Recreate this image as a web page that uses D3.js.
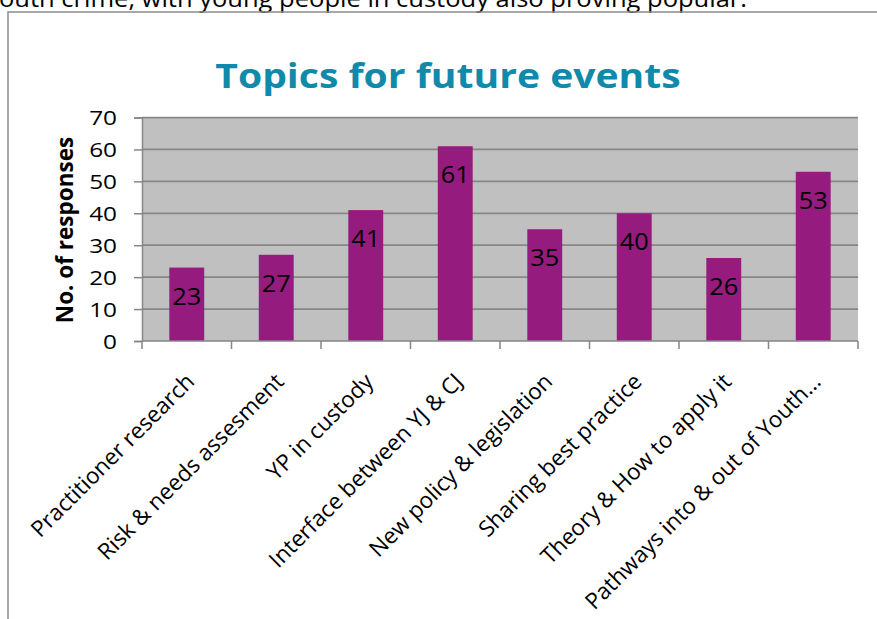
<!DOCTYPE html>
<html>
<head>
<meta charset="utf-8">
<script src="https://cdn.jsdelivr.net/npm/d3@7"></script>
<style>
  body { margin: 0; background: #fff; }
  svg { display: block; font-family: "Open Sans", sans-serif; }
</style>
</head>
<body>
<div id="chart"></div>
<script>
// Chart data
let topics = ["Practitioner research", "Risk & needs assesment", "YP in custody", "Interface between YJ & CJ",
              "New policy & legislation", "Sharing best practice", "Theory & How to apply it", "Pathways into & out of Youth\u2026"]
let responses = [23, 27, 41, 61, 35, 40, 26, 53]
let yTicks = [0, 10, 20, 30, 40, 50, 60, 70]
let title = "Topics for future events"
let yTitle = "No. of responses"
let pageText = "outh crime, with young people in custody also proving popular."

let width = 877
let height = 619
let plot = { left: 142, right: 858, top: 117.5, bottom: 341 }

const svg = d3.select("#chart")
            .append("svg")
            .attr("width", width)
            .attr("height", height)

// Text of the page above the chart (cut at the top like the source page)
svg.append("text")
   .attr("transform", "translate(-1,7) scale(1.11,1)")
   .attr("font-size", 23)
   .text(pageText)

// Chart frame
svg.append("rect")
   .attr("x", 8)
   .attr("y", 12)
   .attr("width", 1000)
   .attr("height", 1000)
   .attr("fill", "none")
   .attr("stroke", "#8c8c8c")
   .attr("stroke-width", 1.5)

// Scales
const xScale = d3.scaleBand()
                 .domain(topics)
                 .range([plot.left, plot.right])
const yScale = d3.scaleLinear()
                 .domain([0, 70])
                 .range([plot.bottom, plot.top])

// Plot background
svg.append("rect")
   .attr("x", plot.left)
   .attr("y", plot.top)
   .attr("width", plot.right - plot.left)
   .attr("height", plot.bottom - plot.top)
   .attr("fill", "#c0c0c0")

// Gridlines
svg.append("g")
   .selectAll("line")
   .data(yTicks.slice(1))
   .enter()
   .append("line")
   .attr("x1", plot.left)
   .attr("x2", plot.right)
   .attr("y1", d => yScale(d))
   .attr("y2", d => yScale(d))
   .attr("stroke", "#878787")
   .attr("stroke-width", 1.75)

// Bars
let barWidth = xScale.bandwidth() * 0.39
let center = i => xScale(topics[i]) + xScale.bandwidth() / 2
svg.append("g")
   .selectAll("rect")
   .data(responses)
   .enter()
   .append("rect")
   .attr("x", (d, i) => center(i) - barWidth / 2)
   .attr("y", d => yScale(d))
   .attr("width", barWidth)
   .attr("height", d => yScale(0) - yScale(d))
   .attr("fill", "#961b7f")

// Data labels
svg.append("g")
   .selectAll("text")
   .data(responses)
   .enter()
   .append("text")
   .attr("transform", (d, i) => "translate(" + center(i) + "," + (yScale(d) + 37) + ") scale(1.1,1)")
   .attr("text-anchor", "middle")
   .attr("font-size", 23)
   .attr("fill", "#000")
   .text(d => d)

// Y axis
let labelStretch = 1.25
const yAxis = d3.axisLeft(yScale).tickValues(yTicks).tickSize(8).tickPadding(9)
let yG = svg.append("g")
            .attr("transform", "translate(" + plot.left + ",0)")
            .call(yAxis)
yG.select(".domain").attr("stroke", "#868686").attr("stroke-width", 1.5)
yG.selectAll(".tick line").attr("stroke", "#868686").attr("stroke-width", 1.5)
yG.selectAll(".tick text")
  .attr("font-family", "Open Sans")
  .attr("font-size", 19.5)
  .attr("fill", "#000")
  .attr("x", -25 / labelStretch)
  .attr("dy", "0.36em")
  .attr("transform", "scale(" + labelStretch + ",1)")

// X axis line with ticks on category boundaries
let xG = svg.append("g")
xG.append("line")
  .attr("x1", plot.left)
  .attr("x2", plot.right)
  .attr("y1", plot.bottom)
  .attr("y2", plot.bottom)
  .attr("stroke", "#868686")
  .attr("stroke-width", 1.5)
xG.selectAll(".xtick")
  .data(topics.concat(["end"]))
  .enter()
  .append("line")
  .attr("class", "xtick")
  .attr("x1", (d, i) => plot.left + i * xScale.step())
  .attr("x2", (d, i) => plot.left + i * xScale.step())
  .attr("y1", plot.bottom)
  .attr("y2", plot.bottom + 8)
  .attr("stroke", "#868686")
  .attr("stroke-width", 1.5)

// Rotated category labels
xG.selectAll(".xlabel")
  .data(topics)
  .enter()
  .append("text")
  .attr("class", "xlabel")
  .attr("text-anchor", "end")
  .attr("font-size", 22.5)
  .attr("transform", (d, i) => "translate(" + (center(i) + 9) + "," + 383 + ") rotate(-45)")
  .text(d => d)

// Y axis title
svg.append("text")
   .attr("transform", "translate(73,230) rotate(-90)")
   .attr("text-anchor", "middle")
   .attr("font-size", 22.5)
   .attr("font-weight", "bold")
   .text(yTitle)

// Chart title
svg.append("text")
   .attr("transform", "translate(448,88) scale(1.15,1)")
   .attr("text-anchor", "middle")
   .attr("font-size", 34)
   .attr("font-weight", "bold")
   .attr("fill", "#0f8aaa")
   .text(title)
</script>
</body>
</html>
